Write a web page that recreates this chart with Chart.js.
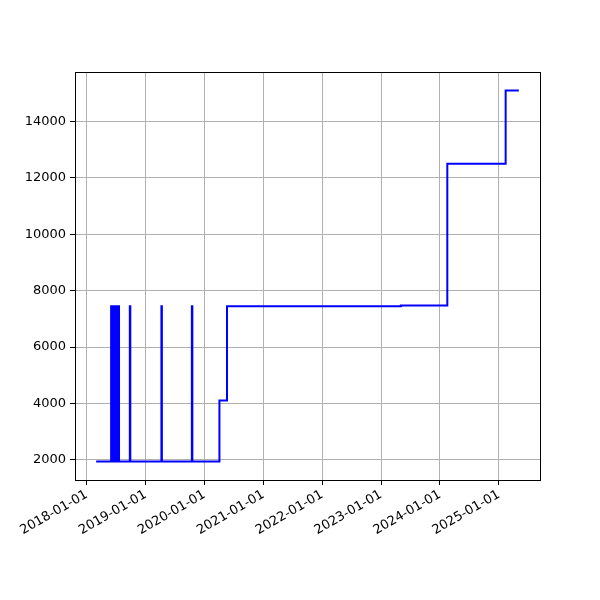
<!DOCTYPE html>
<html>
<head>
<meta charset="utf-8">
<script src="https://cdn.jsdelivr.net/npm/chart.js@4/dist/chart.umd.min.js"></script>
<style>
  html, body { margin: 0; padding: 0; background: #fff; }
  #wrap { width: 600px; height: 600px; }
</style>
</head>
<body>
<div id="wrap"><canvas id="chart" width="600" height="600"></canvas></div>
<script>
// data (step-post line)
const dates = ['2018-02-28', '2018-06-01', '2018-06-10', '2018-06-13', '2018-06-22', '2018-06-25', '2018-07-05',
  '2018-07-08', '2018-07-20', '2018-09-25', '2018-09-28', '2019-04-09', '2019-04-12', '2019-10-15', '2019-10-18',
  '2020-04-03', '2020-05-20', '2023-05-04', '2024-02-16', '2025-02-12', '2025-05-05'];
const values = [1940, 7450, 1940, 7450, 1940, 7450, 1940,
  7450, 1940, 7450, 1940, 7450, 1940, 7450, 1940,
  4100, 7450, 7475, 12500, 15100, 15100];
const xTickLabels = ['2018-01-01', '2019-01-01', '2020-01-01', '2021-01-01', '2022-01-01', '2023-01-01', '2024-01-01', '2025-01-01'];
const yTicks = [2000, 4000, 6000, 8000, 10000, 12000, 14000];

function toMs(s) {
  const p = s.split('-');
  return Date.UTC(+p[0], +p[1] - 1, +p[2]);
}
function fmt(ms) {
  const d = new Date(ms);
  const mm = String(d.getUTCMonth() + 1).padStart(2, '0');
  const dd = String(d.getUTCDate()).padStart(2, '0');
  return d.getUTCFullYear() + '-' + mm + '-' + dd;
}

const points = dates.map((d, i) => ({ x: toMs(d), y: values[i] }));

// matplotlib style 5% margins
const xs = points.map(p => p.x);
const xMin = Math.min(...xs), xMax = Math.max(...xs);
const xPad = (xMax - xMin) * 0.05;
const yMin = Math.min(...values), yMax = Math.max(...values);
const yPad = (yMax - yMin) * 0.05;

const frame = {
  id: 'frame',
  afterDraw(chart) {
    const a = chart.chartArea;
    const ctx = chart.ctx;
    ctx.save();
    ctx.strokeStyle = '#000';
    ctx.lineWidth = 1;
    ctx.strokeRect(Math.round(a.left) + 0.5, Math.round(a.top) + 0.5, Math.round(a.right - a.left), Math.round(a.bottom - a.top));
    ctx.restore();
  }
};

const tickFont = { family: 'DejaVu Sans', size: 13 };

new Chart(document.getElementById('chart'), {
  type: 'line',
  data: {
    datasets: [{
      data: points,
      borderColor: '#0000ff',
      borderWidth: 2,
      pointRadius: 0,
      stepped: true,
      fill: false
    }]
  },
  options: {
    responsive: false,
    animation: false,
    layout: { padding: { left: 0, top: 72, right: 60, bottom: 0 } },
    plugins: { legend: { display: false }, tooltip: { enabled: false } },
    scales: {
      x: {
        type: 'linear',
        min: xMin - xPad,
        max: xMax + xPad,
        afterBuildTicks(scale) {
          scale.ticks = xTickLabels.map(s => ({ value: toMs(s) }));
        },
        afterFit(scale) { scale.height = 120; },
        ticks: {
          color: '#000',
          font: tickFont,
          maxRotation: 30,
          minRotation: 30,
          autoSkip: false,
          padding: 2,
          callback: v => fmt(v)
        },
        grid: { color: '#b0b0b0', lineWidth: 1, tickColor: '#000', tickLength: 5 },
        border: { color: '#000', width: 1 }
      },
      y: {
        min: yMin - yPad,
        max: yMax + yPad,
        afterBuildTicks(scale) {
          scale.ticks = yTicks.map(v => ({ value: v }));
        },
        afterFit(scale) { scale.width = 75; },
        ticks: { color: '#000', font: tickFont, padding: 4, callback: v => String(v) },
        grid: { color: '#b0b0b0', lineWidth: 1, tickColor: '#000', tickLength: 5 },
        border: { color: '#000', width: 1 }
      }
    }
  },
  plugins: [frame]
});
</script>
</body>
</html>
